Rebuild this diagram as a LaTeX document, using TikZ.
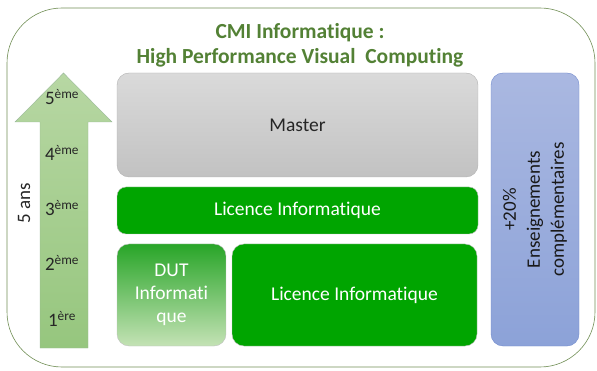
\documentclass[tikz,border=0pt]{standalone}
\usepackage{fontspec}
\setmainfont{Carlito}[Ligatures=NoCommon]
\definecolor{cadrevert}{RGB}{112,142,84}
\definecolor{titrevert}{RGB}{83,129,53}
\definecolor{licvert}{RGB}{0,165,0}
\definecolor{bleuhaut}{RGB}{170,184,225}
\definecolor{bleubas}{RGB}{140,162,216}

\begin{document}
\begin{tikzpicture}[x=1pt, y=-1pt,
    boite/.style={rounded corners=12pt, draw=black!25, inner sep=0pt,
        font=\fontsize{19.5}{23}\selectfont},
    licence/.style={boite, rounded corners=9pt, fill=licvert, text=white},
    annee/.style={font=\fontsize{19}{24}\selectfont, text=black!85}]
    \useasboundingbox (0,0) rectangle (597,371);

    % cadre et titre
    \draw[cadrevert, semithick, rounded corners=55pt] (7,8) rectangle (595,367);
    \node[text=titrevert, align=center, font=\fontsize{21.5}{25}\selectfont\bfseries]
        (titre) at (300,45) {CMI Informatique :\\High Performance Visual\ \ Computing};

    % fleche des annees
    \draw[draw=green!30!black!40, top color={rgb,255:red,183;green,215;blue,163},
        bottom color={rgb,255:red,150;green,198;blue,126}]
        (63.5,73) -- (112,122) -- (88,122) -- (88,348) -- (40,348) -- (40,122)
        -- (15,122) -- cycle;
    \node[annee] (a5) at (62,97) {5\textsuperscript{ème}};
    \node[annee] (a4) at (62,153) {4\textsuperscript{ème}};
    \node[annee] (a3) at (62,208) {3\textsuperscript{ème}};
    \node[annee] (a2) at (62,263) {2\textsuperscript{ème}};
    \node[annee] (a1) at (62,319) {1\textsuperscript{ère}};
    \node[annee, rotate=90] (duree) at (24,203) {5 ans};

    % les formations
    \node[boite, draw=black!30, text=black!85,
        top color={rgb,255:red,218;green,218;blue,218},
        bottom color={rgb,255:red,194;green,194;blue,194},
        minimum width=361pt, minimum height=104pt] (master) at (297.5,125) {Master};
    \node[licence, minimum width=361pt, minimum height=47pt]
        (lichaut) at (297.5,210.5) {Licence Informatique};
    \node[boite, text=white, align=center, text width=105pt,
        top color={rgb,255:red,40;green,165;blue,40},
        bottom color={rgb,255:red,196;green,226;blue,181},
        minimum width=109pt, minimum height=102pt] (dut) at (171.5,295)
        {DUT\\Informati\\que};
    \node[licence, rounded corners=12pt, minimum width=245pt, minimum height=102pt]
        (licbas) at (354.5,295) {Licence Informatique};

    % enseignements complementaires
    \node[boite, draw={rgb,255:red,112;green,138;blue,205},
        top color=bleuhaut, bottom color=bleubas,
        minimum width=88pt, minimum height=273pt] (bonus) at (535,209.5) {};
    \node[annee, rotate=90, align=center, text=black!90] (bonustxt) at (bonus.center)
        {+20\%\\Enseignements\\complémentaires};
\end{tikzpicture}
\end{document}
